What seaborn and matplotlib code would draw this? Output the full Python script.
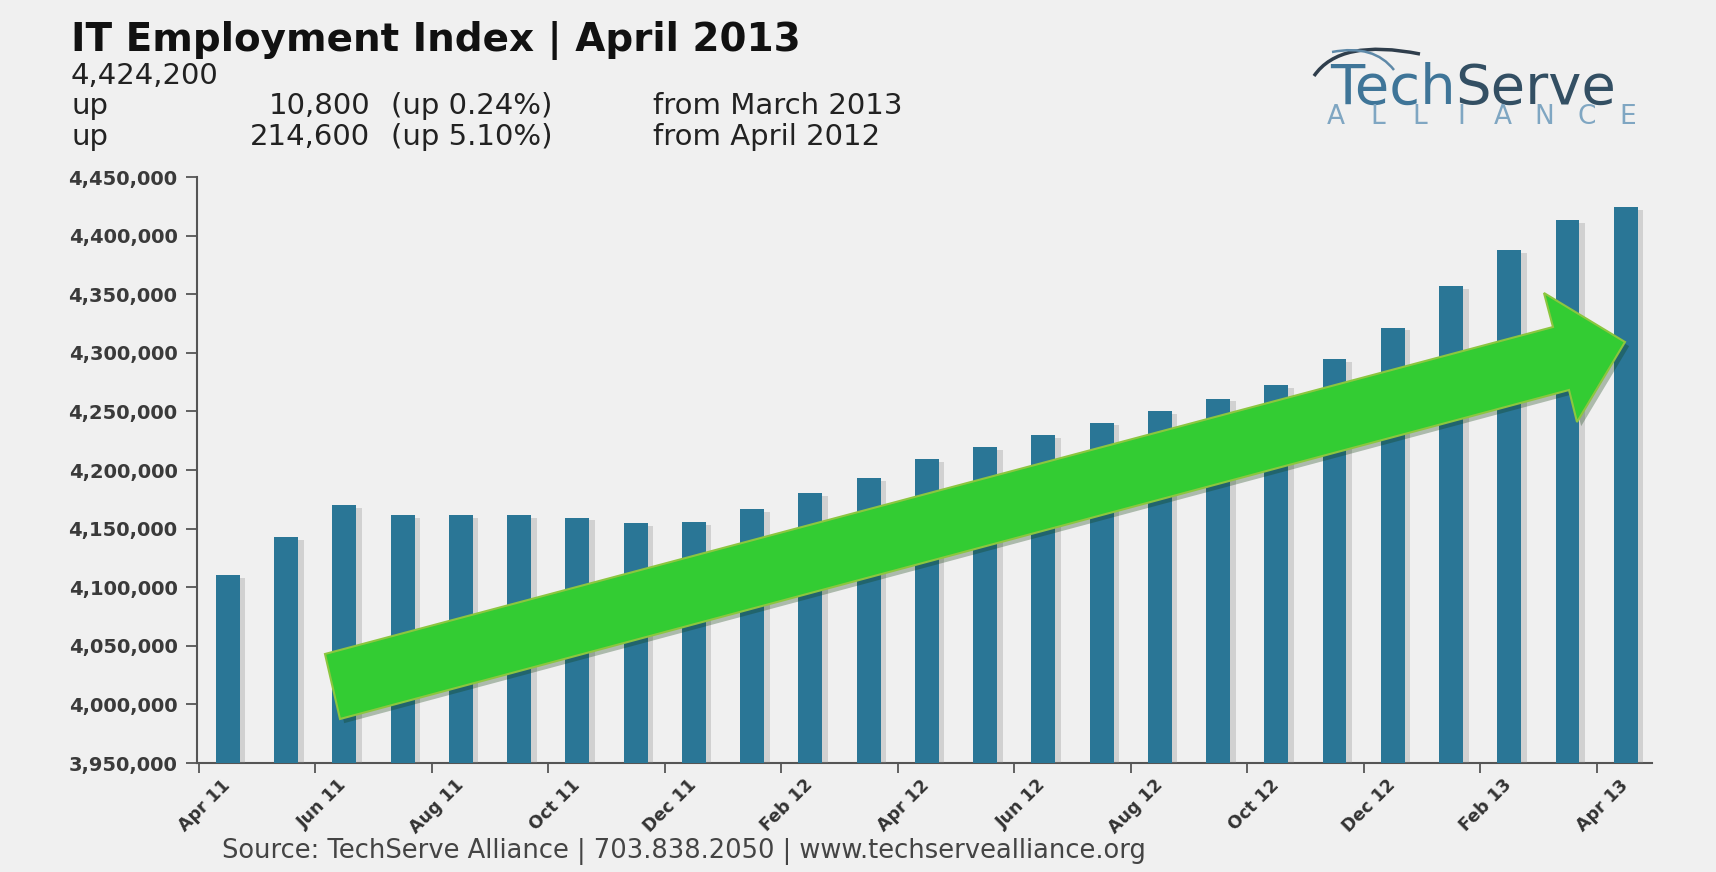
import numpy as np
import matplotlib
matplotlib.use("Agg")
import matplotlib.pyplot as plt
import matplotlib.patheffects as pe
from matplotlib.patches import Polygon, PathPatch
from matplotlib.path import Path
from matplotlib.ticker import FuncFormatter
import seaborn as sns

# Monthly IT employment index, April 2011 - April 2013
months = ["Apr 11", "May 11", "Jun 11", "Jul 11", "Aug 11", "Sep 11", "Oct 11",
          "Nov 11", "Dec 11", "Jan 12", "Feb 12", "Mar 12", "Apr 12", "May 12",
          "Jun 12", "Jul 12", "Aug 12", "Sep 12", "Oct 12", "Nov 12", "Dec 12",
          "Jan 13", "Feb 13", "Mar 13", "Apr 13"]
employment = [4110000, 4143000, 4170300, 4161800, 4161600, 4161500, 4159300,
              4154600, 4155500, 4166600, 4180100, 4192900, 4209600, 4219300,
              4229900, 4240400, 4250300, 4260900, 4272500, 4294400, 4321400,
              4357000, 4387700, 4413400, 4424200]
tick_labels = months[::2]
y_ticks = list(range(3950000, 4450001, 50000))

title = "IT Employment Index | April 2013"
headline = "4,424,200"
change_rows = [("up", "10,800", "(up 0.24%)", "from March 2013"),
               ("up", "214,600", "(up 5.10%)", "from April 2012")]
source = "Source: TechServe Alliance | 703.838.2050 | www.techservealliance.org"

BG = "#F0F0F0"
BAR = "#2A7696"
AXIS = "#555555"
TXT = "#222222"

sns.set_theme(style="white")
plt.rcParams["font.family"] = ["DejaVu Sans"]

W, H = 1716, 872
fig = plt.figure(figsize=(W / 100, H / 100), dpi=100, facecolor=BG)


def fx(px):
    return px / W


def fy(py):
    return 1 - py / H


ax = fig.add_axes([fx(197), fy(763), fx(1652) - fx(197), fy(177) - fy(763)])
ax.set_facecolor(BG)

sns.barplot(x=months, y=employment, color=BAR, saturation=1, width=0.41, ax=ax,
            linewidth=0, zorder=3)
for bar in ax.patches:
    bar.set_path_effects([pe.SimplePatchShadow(offset=(4, -2), shadow_rgbFace="#8a8a8a",
                                               alpha=0.3), pe.Normal()])

ax.set_ylim(3950000, 4450000)
ax.set_xlim(-0.53, 24.45)
ax.set_yticks(y_ticks)
ax.yaxis.set_major_formatter(FuncFormatter(lambda v, p: f"{int(v):,}"))
ax.set_xticks(range(0, len(months), 2))
ax.set_xticklabels(tick_labels, rotation=45, ha="right", va="center",
                   rotation_mode="anchor")
ax.set_xticks(np.arange(-0.5, len(months) - 1, 2), minor=True)
ax.tick_params(axis="x", which="major", length=0, pad=14, labelsize=12.5,
               labelcolor="#333333")
ax.tick_params(axis="x", which="minor", length=7, width=1.3, color=AXIS,
               direction="out", bottom=True)
ax.tick_params(axis="y", length=8, width=1.3, color=AXIS, direction="out",
               left=True, pad=6, labelsize=14, labelcolor="#3a3a3a")
for lab in ax.get_xticklabels() + ax.get_yticklabels():
    lab.set_fontweight("bold")
for s in ("top", "right"):
    ax.spines[s].set_visible(False)
for s in ("left", "bottom"):
    ax.spines[s].set_color(AXIS)
    ax.spines[s].set_linewidth(1.5)
ax.set_xlabel("")
ax.set_ylabel("")
ax.grid(False)

# Heading block
fig.text(fx(71), fy(51), title, fontsize=28, fontweight="bold", color="#111111",
         va="baseline", ha="left")
fig.text(fx(71), fy(84), headline, fontsize=21, color=TXT, va="baseline", ha="left")
for row, base in zip(change_rows, (114, 145)):
    word, amount, pct, ref = row
    fig.text(fx(71), fy(base), word, fontsize=21, color=TXT, va="baseline")
    fig.text(fx(370), fy(base), amount, fontsize=21, color=TXT, va="baseline",
             ha="right")
    fig.text(fx(391), fy(base), pct, fontsize=21, color=TXT, va="baseline")
    fig.text(fx(653), fy(base), ref, fontsize=21, color=TXT, va="baseline")

# Footer
fig.text(fx(222), fy(858), source, fontsize=18.5, color="#444444", va="baseline")

# Logo: "TechServe" sized to its box, then the two colour parts side by side
renderer = fig.canvas.get_renderer()
probe = fig.text(0, 0, "TechServe", fontsize=40)
probe_w = probe.get_window_extent(renderer).width
probe.remove()
logo_size = 40 * 0.9 * (1642 - 1324) / probe_w
logo_left = 1330
tech = fig.text(fx(logo_left), fy(104), "Tech", fontsize=logo_size, color="#3F7598",
                va="baseline", ha="left")
tech_w = tech.get_window_extent(renderer).width
fig.text(fx(logo_left + tech_w), fy(104), "Serve", fontsize=logo_size,
         color="#334F63", va="baseline", ha="left")
for letter, xp in zip("ALLIANCE", np.linspace(1336, 1628, 8)):
    fig.text(fx(xp), fy(124), letter, fontsize=19, color="#7FA6C2", va="baseline",
             ha="center")
swoosh1 = Path([(fx(1314), fy(76)), (fx(1340), fy(38)), (fx(1420), fy(54))],
               [Path.MOVETO, Path.CURVE3, Path.CURVE3])
swoosh2 = Path([(fx(1332), fy(52)), (fx(1374), fy(44)), (fx(1394), fy(70))],
               [Path.MOVETO, Path.CURVE3, Path.CURVE3])
fig.patches.append(PathPatch(swoosh1, transform=fig.transFigure, fill=False,
                             edgecolor="#2F3E4C", linewidth=2.5))
fig.patches.append(PathPatch(swoosh2, transform=fig.transFigure, fill=False,
                             edgecolor="#5E89A8", linewidth=1.8))

# Trend arrow overlay
arrow_px = [(325, 654), (1553, 327), (1544, 293), (1625, 342), (1577, 422),
            (1569, 390), (340, 719)]
arrow = Polygon([(fx(x), fy(y)) for x, y in arrow_px], closed=True,
                transform=fig.transFigure, facecolor="#33CC33",
                edgecolor="#8CC63F", linewidth=1.5, zorder=10)
arrow.set_path_effects([pe.SimplePatchShadow(offset=(3, -3), alpha=0.3), pe.Normal()])
fig.patches.append(arrow)

fig.savefig("out.png", dpi=100, facecolor=BG)
